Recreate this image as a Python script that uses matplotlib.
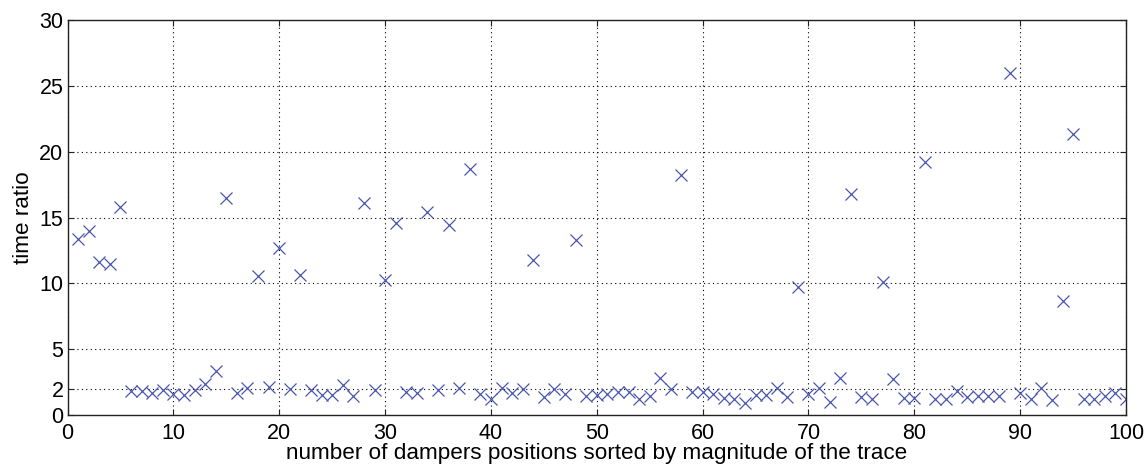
import numpy as np
import matplotlib
matplotlib.use("Agg")
import matplotlib.pyplot as plt

# time ratio for each damper position (1..100)
positions = list(range(1, 101))
time_ratio = [
    13.4, 14.0, 11.6, 11.5, 15.8, 1.82, 1.82, 1.65, 1.90, 1.57,
    1.49, 1.90, 2.34, 3.35, 16.5, 1.67, 2.02, 10.55, 2.15, 12.7,
    2.00, 10.6, 1.90, 1.49, 1.49, 2.29, 1.44, 16.1, 1.90, 10.25,
    14.6, 1.77, 1.65, 15.4, 1.90, 14.4, 2.09, 18.7, 1.57, 1.21,
    2.02, 1.70, 1.95, 11.8, 1.34, 1.95, 1.57, 13.3, 1.44, 1.52,
    1.62, 1.72, 1.72, 1.21, 1.44, 2.78, 1.95, 18.2, 1.72, 1.72,
    1.57, 1.27, 1.21, 0.89, 1.52, 1.52, 2.02, 1.39, 9.74, 1.57,
    2.07, 0.98, 2.78, 16.8, 1.39, 1.19, 10.1, 2.75, 1.29, 1.29,
    19.25, 1.21, 1.21, 1.82, 1.39, 1.47, 1.47, 1.44, 26.0, 1.65,
    1.21, 2.07, 1.14, 8.68, 21.35, 1.21, 1.21, 1.44, 1.65, 1.19,
]
x_ticks = [0, 10, 20, 30, 40, 50, 60, 70, 80, 90, 100]
y_ticks = [0, 2, 5, 10, 15, 20, 25, 30]


def main():
    plt.rcParams["font.family"] = ["Liberation Sans", "DejaVu Sans"]
    fig = plt.figure(figsize=(11.47, 4.68), dpi=100)
    ax = fig.add_axes([0.0589, 0.1132, 0.9228, 0.8441])

    ax.plot(positions, time_ratio, linestyle="none", marker="x",
            markersize=8, markeredgewidth=0.9, color="#4a56b0")

    ax.set_xlim(0, 100)
    ax.set_ylim(0, 30)
    ax.set_xticks(x_ticks)
    ax.set_yticks(y_ticks)
    ax.grid(True, color="black", linestyle=(0, (1, 3)), linewidth=0.8)
    ax.tick_params(direction="in", top=True, right=True, length=4,
                   labelsize=15.5, width=0.8, color="#222222")
    ax.tick_params(axis="x", pad=6)
    ax.tick_params(axis="y", pad=3)
    for side in ax.spines.values():
        side.set_linewidth(1.0)
        side.set_color("#222222")

    ax.set_xlabel("number of dampers positions sorted by magnitude of the trace",
                  fontsize=16.2, labelpad=-1)
    ax.set_ylabel("time ratio", fontsize=16.2, labelpad=4)

    fig.savefig("out.png", dpi=100)
    plt.close(fig)


if __name__ == "__main__":
    main()
